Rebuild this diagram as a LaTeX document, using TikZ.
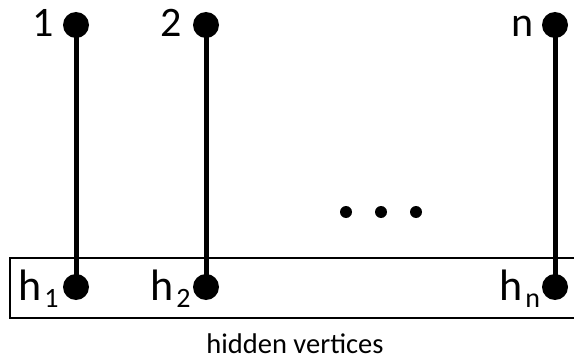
\documentclass[tikz,border=0pt]{standalone}
\usepackage{fontspec}
\setmainfont{Carlito}
\begin{document}
\begin{tikzpicture}[x=1pt,y=-1pt,
  vtx/.style={circle,fill=black,inner sep=0pt,minimum size=26pt},
  edge/.style={line width=5pt},
  lbl/.style={font=\fontsize{42}{42}\selectfont,inner sep=0pt,anchor=base east},
  hlbl/.style={font=\fontsize{44}{44}\selectfont,inner sep=0pt,anchor=base west},
  dotv/.style={circle,fill=black,inner sep=0pt,minimum size=12pt}]
\useasboundingbox (0,0) rectangle (574,361);
\draw[line width=2pt] (10,258) rectangle (590,318);
\node[vtx] (t1) at (76,25) {};
\node[vtx] (t2) at (206,25) {};
\node[vtx] (tn) at (555,25) {};
\node[vtx] (b1) at (76,287) {};
\node[vtx] (b2) at (206,287) {};
\node[vtx] (bn) at (555,287) {};
\draw[edge] (t1.center) -- (b1.center);
\draw[edge] (t2.center) -- (b2.center);
\draw[edge] (tn.center) -- (bn.center);
\node[lbl] (l1) at (54,37) {1};
\node[lbl] (l2) at (182,37) {2};
\node[lbl] (ln) at (534,37) {n};
\newcommand\hsub[1]{h\hspace{3pt}\raisebox{-7pt}{\fontsize{28}{28}\selectfont #1}}
\node[hlbl] (h1) at (18,300) {\hsub{1}};
\node[hlbl] (h2) at (150,300) {\hsub{2}};
\node[hlbl] (hn) at (499,300) {\hsub{n}};
\node[dotv] (d1) at (346,212) {};
\node[dotv] (d2) at (381,212) {};
\node[dotv] (d3) at (416,212) {};
\node[font=\fontsize{28.5}{28.5}\selectfont,anchor=base,inner sep=0pt] (cap) at (295,353) {hidden vertices};
\end{tikzpicture}
\end{document}
